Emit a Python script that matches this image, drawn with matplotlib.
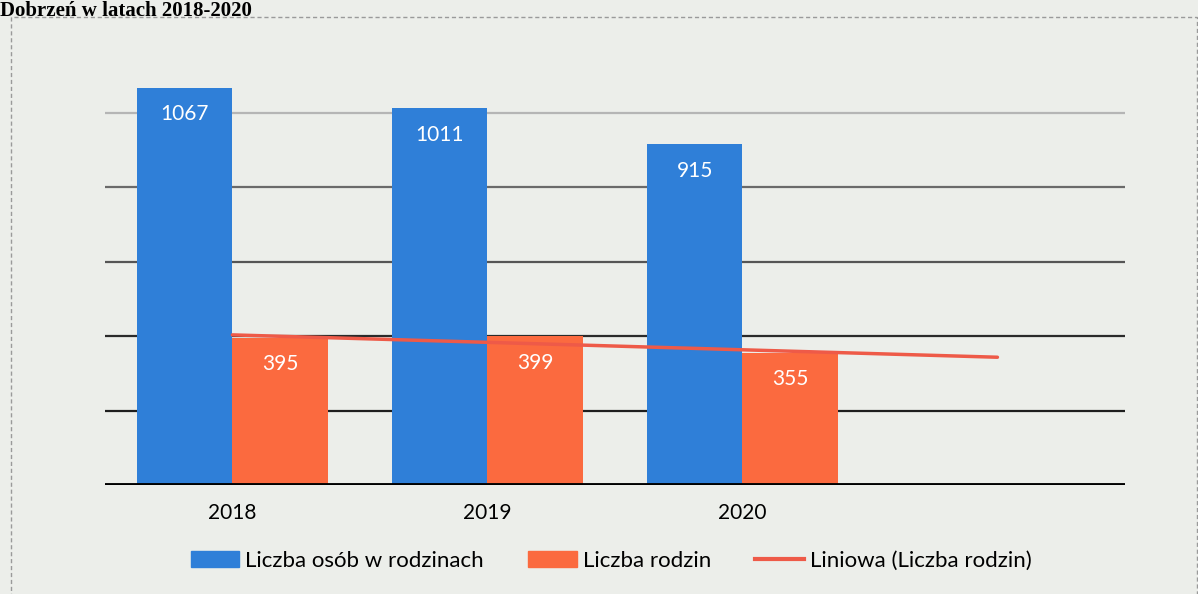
import numpy as np
import matplotlib.pyplot as plt
from matplotlib.patches import Patch, Rectangle
from matplotlib.lines import Line2D

# dane z wykresu
lata = ['2018', '2019', '2020']
osoby = [1067, 1011, 915]
rodziny = [395, 399, 355]

niebieski = '#2f7fd8'
pomaranczowy = '#fb6a3f'
trend_kolor = '#ee5a48'
tlo = '#eceeea'

plt.rcParams['font.family'] = ['Lato', 'DejaVu Sans']

fig = plt.figure(figsize=(11.98, 5.94), dpi=100, facecolor=tlo)
ax = fig.add_axes([0.0876, 0.1835, 0.8514, 0.7525])
ax.set_facecolor(tlo)

# ramka wykresu
fig.patches.append(Rectangle((0.009, -0.01), 0.99, 1 - 17 / 594 + 0.01, transform=fig.transFigure,
                             fill=False, edgecolor='#9a9a9a', lw=1.0, ls=(0, (3, 2))))

x = np.arange(len(lata))
w = 0.373

# linie siatki - zdjęcie wyblakłe u góry
for val, c in zip([200, 400, 600, 800, 1000], ['#1e1e1e', '#2a2a2a', '#555555', '#6a6a6a', '#b5b5b5']):
    ax.axhline(val, color=c, lw=1.6, zorder=0)

b1 = ax.bar(x - w / 2, osoby, w, color=niebieski, zorder=2)
b2 = ax.bar(x + w / 2, rodziny, w, color=pomaranczowy, zorder=2)

for bars in (b1, b2):
    for r in bars:
        ax.annotate(str(int(r.get_height())), (r.get_x() + r.get_width() / 2, r.get_height()),
                    xytext=(0, -19), textcoords='offset points', ha='center', va='center',
                    color='white', fontsize=15, zorder=4)

# linia trendu (liniowa) z prognozą o jeden okres
a, b = np.polyfit(x + 1, rodziny, 1)
xt = np.array([0, 3])
ax.plot(xt, a * (xt + 1) + b, color=trend_kolor, lw=2.5, zorder=3, solid_capstyle='round')

ax.axhline(0, color='black', lw=3.5, zorder=3)

ax.set_xlim(-0.5, 3.5)
ax.set_ylim(0, 1200)
ax.set_xticks(x)
ax.set_xticklabels(lata, fontsize=15)
ax.tick_params(axis='x', length=0, pad=13)
ax.set_yticks([])
for s in ax.spines.values():
    s.set_visible(False)

handles = [Patch(color=niebieski), Patch(color=pomaranczowy),
           Line2D([0], [0], color=trend_kolor, lw=3)]
labels = ['Liczba osób w rodzinach', 'Liczba rodzin', 'Liniowa (Liczba rodzin)']
fig.legend(handles, labels, loc='center', bbox_to_anchor=(0.51, 1 - 561 / 594), ncol=3,
           frameon=False, fontsize=16, handlelength=2.2, handleheight=0.7,
           columnspacing=2.0, handletextpad=0.25)

fig.text(0.0, 1 - 1 / 594, 'Dobrzeń w latach 2018-2020', fontsize=15, fontweight='bold',
         family=['Liberation Serif', 'DejaVu Serif'], va='top', ha='left')

fig.savefig('out.png', dpi=100, facecolor=tlo)
